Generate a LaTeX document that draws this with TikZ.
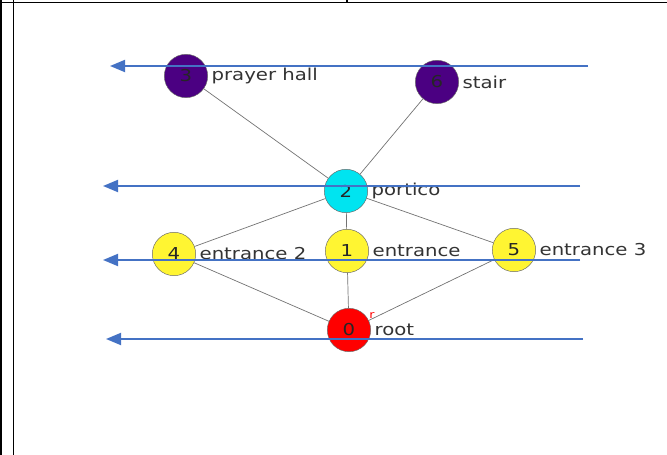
\documentclass[tikz,border=0pt]{standalone}
\usepackage{fontspec}
\setmainfont[FakeStretch=1.2]{DejaVu Sans}
\usetikzlibrary{arrows.meta}
\definecolor{arrowblue}{RGB}{68,114,196}
\definecolor{hallpurple}{RGB}{75,0,130}
\definecolor{porticocyan}{RGB}{0,228,240}
\definecolor{entryyellow}{RGB}{255,245,50}
\tikzset{
  vtx/.style={circle,draw=black!60,thin,minimum size=1.3cm,inner sep=0pt,
    font=\fontsize{14}{16}\selectfont,text=black!85},
  lbl/.style={anchor=west,font=\fontsize{14}{16}\selectfont,text=black!80,inner sep=0pt},
  edge/.style={draw=black!55,line width=0.6pt},
  level/.style={draw=arrowblue,line width=1.6pt,-{Triangle[length=0.45cm,width=0.36cm]}}
}

\begin{document}
\begin{tikzpicture}[x=0.03cm,y=-0.03cm]
 \useasboundingbox (0,0) rectangle (667,455);
 % table rules
 \draw[line width=1.7pt] (0,2.5)--(667,2.5);
 \draw[line width=1.7pt] (1,0)--(1,455);
 \draw[line width=1.7pt] (13.5,0)--(13.5,455);
 \draw[line width=1.2pt] (347,0)--(347,2.5);
 % vertices
 \node[vtx,fill=hallpurple] (v3) at (186,76) {3};
 \node[vtx,fill=hallpurple] (v6) at (437,82) {6};
 \node[vtx,fill=porticocyan] (v2) at (346,191) {2};
 \node[vtx,fill=entryyellow] (v4) at (174,254) {4};
 \node[vtx,fill=entryyellow] (v1) at (347,251) {1};
 \node[vtx,fill=entryyellow] (v5) at (514,250) {5};
 \node[vtx,fill=red] (v0) at (349,330) {0};
 \foreach \v/\t in {v3/prayer hall,v6/stair,v2/portico,v4/entrance 2,v1/entrance,v5/entrance 3,v0/root}
   \node[lbl] (\v l) at ([xshift=3pt]\v.east) {\t};
 \node[font=\fontsize{9}{10}\selectfont,text=red] (rmark) at (372,316) {r};
 % edges
 \foreach \a/\b in {v3/v2,v6/v2,v2/v4,v2/v1,v2/v5,v4/v0,v1/v0,v5/v0}
   \draw[edge] (\a)--(\b);
 % level arrows
 \foreach \i/\xs/\xe/\y in {1/588/110/66,2/580/103/186,3/580/103/260,4/583/106/339} {
   \coordinate (s\i) at (\xs,\y);
   \coordinate (e\i) at (\xe,\y);
   \draw[level] (s\i)--(e\i);
 }
\end{tikzpicture}
\end{document}
